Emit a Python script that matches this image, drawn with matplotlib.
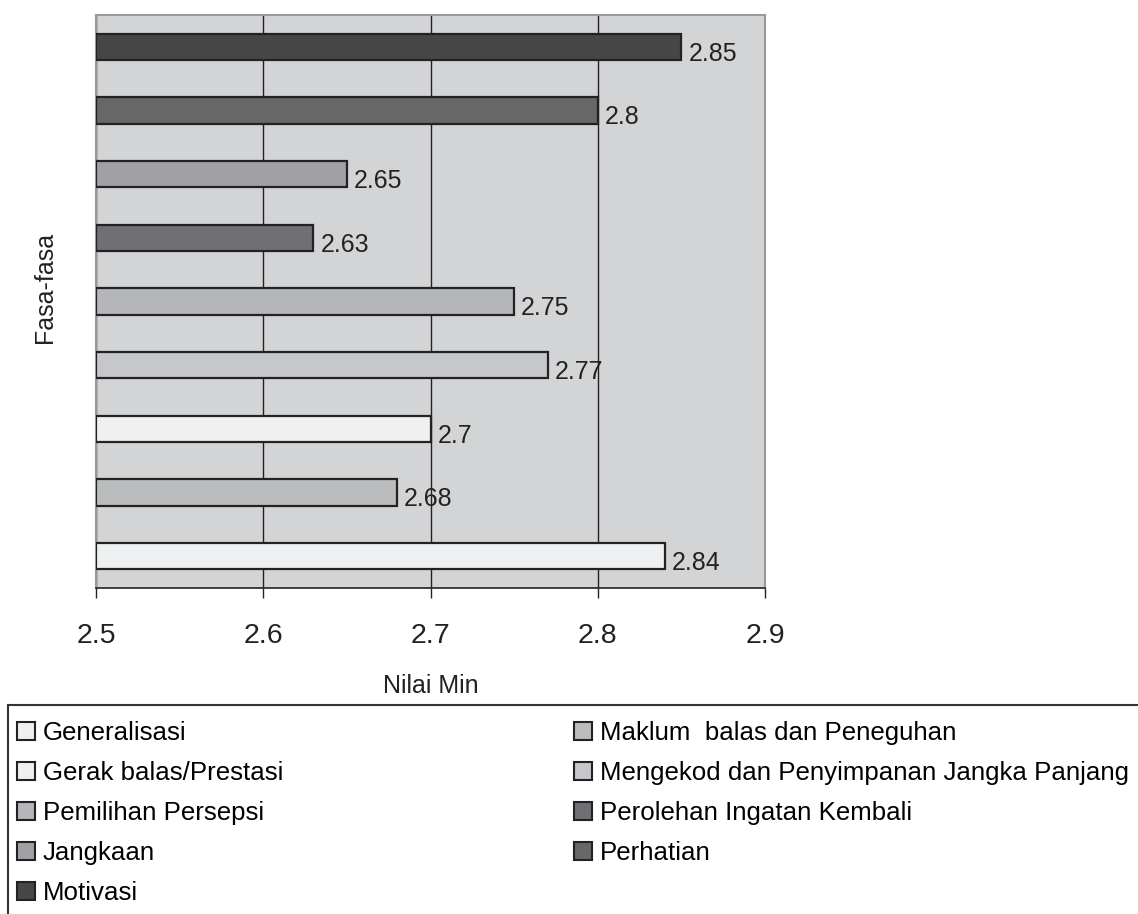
import matplotlib.pyplot as plt
from matplotlib.patches import Patch, Rectangle

# bottom to top
phases = [
    "Generalisasi",
    "Maklum  balas dan Peneguhan",
    "Gerak balas/Prestasi",
    "Mengekod dan Penyimpanan Jangka Panjang",
    "Pemilihan Persepsi",
    "Perolehan Ingatan Kembali",
    "Jangkaan",
    "Perhatian",
    "Motivasi",
]
mean_values = [2.84, 2.68, 2.7, 2.77, 2.75, 2.63, 2.65, 2.8, 2.85]
bar_colors = [
    "#eff0f1", "#bbbcbe", "#f0f0f0", "#c6c7ca", "#b5b6b9",
    "#6f7073", "#a0a1a4", "#676769", "#454648",
]
x_ticks = [2.5, 2.6, 2.7, 2.8, 2.9]

plt.rcParams["font.family"] = ["Liberation Sans", "DejaVu Sans"]

W, H = 1138, 914
fig = plt.figure(figsize=(W / 100, H / 100), dpi=100)
ax = fig.add_axes([96 / W, 1 - 588 / H, (765 - 96) / W, (588 - 15) / H])
ax.set_facecolor("#d3d4d6")

pos = list(range(len(phases)))
base = 2.5
ax.barh(pos, [v - base for v in mean_values], left=base, height=0.41,
        color=bar_colors, edgecolor="#222222", linewidth=1.6, zorder=3)

for p, v in zip(pos, mean_values):
    ax.annotate(f"{v:g}", (v, p), xytext=(5, -5), textcoords="offset points",
                va="center", ha="left", fontsize=18, color="#222222")

ax.set_xlim(2.5, 2.9)
ax.set_ylim(-0.5, len(phases) - 0.5)
ax.set_xticks(x_ticks)
ax.set_xticklabels([f"{t:g}" for t in x_ticks], fontsize=20.5, color="#222222")
ax.tick_params(axis="x", length=7, width=1, pad=18, color="#222222")
ax.set_yticks([])
ax.grid(axis="x", color="#222222", linewidth=1, zorder=1)
ax.set_axisbelow(True)

for s in ["top", "right", "left"]:
    ax.spines[s].set_color("#999999")
    ax.spines[s].set_linewidth(1.5)
ax.spines["bottom"].set_color("#222222")
ax.spines["bottom"].set_linewidth(1.2)

ax.set_xlabel("Nilai Min", fontsize=18, color="#222222", labelpad=18)
ax.set_ylabel("Fasa-fasa", fontsize=18, color="#222222")
ax.yaxis.set_label_coords(-0.058, 0.524)

# legend frame (runs off the figure edges)
fig.patches.append(Rectangle((8 / W, -0.1), 1.2, 1 - 705 / H + 0.1,
                             transform=fig.transFigure, facecolor="none",
                             edgecolor="#333333", linewidth=1.5))

order = [0, 2, 4, 6, 8, 1, 3, 5, 7]
handles = [Patch(facecolor=bar_colors[i], edgecolor="#222222", linewidth=1.5)
           for i in order]
labels = [phases[i] for i in order]
fig.legend(handles, labels, ncol=2, loc="upper left",
           bbox_to_anchor=(17 / W, 1 - 721 / H), frameon=False,
           fontsize=18.6, handlelength=0.7, handleheight=0.7,
           handletextpad=0.3, labelspacing=0.62, columnspacing=11.27,
           borderpad=0, borderaxespad=0)

fig.savefig("out.png", dpi=100)
